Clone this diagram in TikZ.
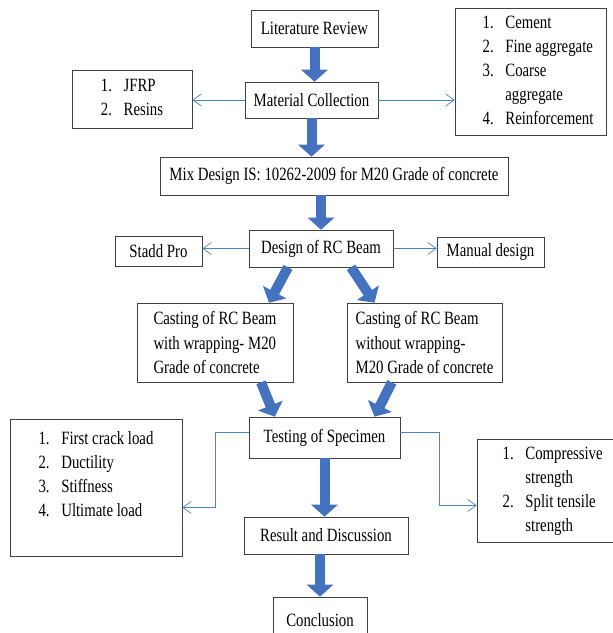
\documentclass[tikz,border=0pt]{standalone}
\usepackage{fontspec}
\setmainfont{Liberation Serif}[FakeStretch=0.79]
\usetikzlibrary{arrows.meta,calc}
\definecolor{blockblue}{RGB}{68,114,190}
\definecolor{lineblue}{RGB}{79,129,189}

\begin{document}
\begin{tikzpicture}[x=0.03cm, y=-0.03cm,
  every node/.style={font=\fontsize{16}{20.5}\selectfont},
  box/.style={draw=black!75, line width=0.5pt, fill=white, inner sep=0pt, align=center},
  bigarrow/.style={blockblue, line width=0.3cm, -{Triangle[length=0.36cm,width=0.78cm]}},
  thinarrow/.style={lineblue, line width=0.6pt, -{Straight Barb[length=0.25cm,width=0.36cm]}}]
\clip (0,0) rectangle (613,633);

\node[box, minimum width=3.81cm, minimum height=1.11cm] (lit) at (314.5,28.5) {Literature Review};
\node[box, minimum width=3.99cm, minimum height=1.08cm] (mat) at (311.5,100) {Material Collection};
\node[box, minimum width=3.6cm, minimum height=1.74cm] (frp) at (132,99)
  {\begin{tabular}{@{}l@{\hspace{0.35cm}}l@{}}1. & JFRP\\ 2. & Resins\end{tabular}};
\node[box, minimum width=4.53cm, minimum height=3.81cm] (mats) at (530.5,71.5)
  {\begin{tabular}{@{\hspace{0.45cm}}l@{\hspace{0.35cm}}l@{}}1. & Cement\\ 2. & Fine aggregate\\ 3. & Coarse\\ & aggregate\\ 4. & Reinforcement\end{tabular}};
\node[box, minimum width=10.44cm, minimum height=1.14cm] (mix) at (334,176) {Mix Design IS: 10262-2009 for M20 Grade of concrete};
\node[box, minimum width=4.32cm, minimum height=1.11cm] (des) at (321,248.5) {Design of RC Beam};
\node[box, minimum width=2.61cm, minimum height=0.9cm] (stadd) at (158.5,251) {Stadd Pro};
\node[box, minimum width=3.21cm, minimum height=0.9cm] (man) at (490.5,252) {Manual design};
\node[box, align=left, minimum width=4.68cm, minimum height=2.37cm] (castw) at (215,342.5)
  {Casting of RC Beam\\with wrapping- M20\\Grade of concrete};
\node[box, align=left, minimum width=4.65cm, minimum height=2.37cm] (casto) at (424.5,342.5)
  {Casting of RC Beam\\without wrapping-\\M20 Grade of concrete};
\node[box, minimum width=4.53cm, minimum height=1.23cm] (test) at (324.5,437.5) {Testing of Specimen};
\node[box, minimum width=5.16cm, minimum height=4.11cm] (prop) at (96,487.5)
  {\begin{tabular}{@{}l@{\hspace{0.35cm}}l@{}}1. & First crack load\\ 2. & Ductility\\ 3. & Stiffness\\ 4. & Ultimate load\\ & \end{tabular}};
\node[box, minimum width=4.14cm, minimum height=3.09cm] (tests) at (546,490.5)
  {\begin{tabular}{@{\hspace{0.4cm}}l@{\hspace{0.35cm}}l@{}}1. & Compressive\\ & strength\\ 2. & Split tensile\\ & strength\end{tabular}};
\node[box, minimum width=4.92cm, minimum height=1.11cm] (res) at (326,535.5) {Result and Discussion};
\node[box, minimum width=2.82cm, minimum height=1.38cm] (conc) at (320,620) {Conclusion};

\draw[bigarrow] (lit.south) -- (lit.south |- mat.north);
\draw[bigarrow] (mat.south) -- (mat.south |- mix.north);
\draw[bigarrow] (des.north |- mix.south) -- (des.north);
\draw[bigarrow] ([xshift=-0.99cm]des.south) -- ([xshift=1.62cm]castw.north);
\draw[bigarrow] ([xshift=0.9cm]des.south) -- ([xshift=-1.5cm]casto.north);
\draw[bigarrow] ([xshift=1.38cm]castw.south) -- ([xshift=-1.49cm]test.north);
\draw[bigarrow] ([xshift=-0.98cm]casto.south) -- ([xshift=1.5cm]test.north);
\draw[bigarrow] (test.south) -- (test.south |- res.north);
\draw[bigarrow] (conc.north |- res.south) -- (conc.north);

\draw[thinarrow] (mat.west) -- (mat.west -| frp.east);
\draw[thinarrow] (mat.east) -- (mat.east -| mats.west);
\draw[thinarrow] (des.west) -- (des.west -| stadd.east);
\draw[thinarrow] (des.east) -- (des.east -| man.west);
\draw[thinarrow] ([yshift=0.15cm]test.west) -- ++(-33,0) |- ([yshift=-0.6cm]prop.east);
\draw[thinarrow] ([yshift=0.15cm]test.east) -- ++(39,0) |- ([yshift=-0.45cm]tests.west);
\end{tikzpicture}
\end{document}
